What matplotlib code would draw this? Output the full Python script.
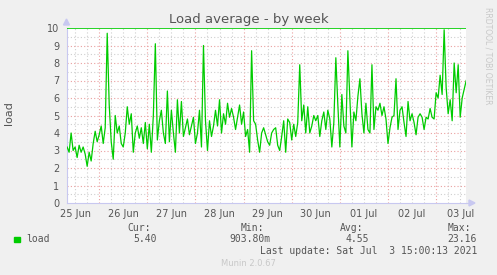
import numpy as np
import matplotlib
matplotlib.use("Agg")
import matplotlib.pyplot as plt

# hourly load samples, starting Jun 25 08:00 (hours counted from Jun 25 00:00)
start_hour = 8
load = [
    # 25 Jun
    3.2, 2.9, 4.0, 3.0, 3.2, 2.6, 3.3, 2.9, 3.2, 2.8, 2.1, 2.9, 2.4,
    3.4, 4.1, 3.5, 3.9, 4.4, 3.4, 4.3, 9.7, 5.6, 3.5, 2.5, 5.0, 4.0,
    4.4, 3.4, 3.2, 4.0, 5.5, 4.5, 5.1, 2.9, 4.0, 4.4, 3.7, 4.3, 3.4,
    4.6, 3.1, 4.5, 2.9, 5.0, 9.1, 3.6, 4.7, 5.3, 4.0, 3.4, 6.4, 3.5,
    # 27 Jun
    5.3, 4.0, 2.9, 5.9, 4.0, 5.8, 3.8, 4.3, 4.8, 3.9, 4.4, 4.9, 3.4,
    4.0, 5.3, 3.2, 9.0, 4.7, 3.0, 4.7, 3.8, 4.4, 5.3, 4.4, 5.9, 4.0,
    5.1, 4.5, 5.7, 4.9, 5.4, 4.9, 4.2, 4.9, 5.6, 4.5, 5.2, 3.8, 4.2,
    2.9, 8.7, 4.7, 4.5, 3.6, 2.9, 4.0, 4.3, 3.9, 3.5, 3.3, 4.0, 4.2,
    # 29 Jun
    4.3, 3.3, 3.0, 3.8, 4.7, 2.9, 4.8, 4.6, 3.6, 4.5, 3.8, 4.6, 7.9,
    4.7, 5.6, 4.0, 5.5, 4.0, 4.4, 5.0, 4.7, 5.0, 3.8, 4.7, 5.2, 4.2,
    5.3, 4.8, 3.2, 4.6, 8.3, 5.6, 3.2, 6.2, 4.4, 4.0, 8.7, 6.0, 3.2,
    5.2, 4.7, 6.1, 7.1, 5.1, 4.0, 5.7, 4.2, 4.0, 7.9, 4.2, 5.5, 5.3,
    # 01 Jul
    5.7, 5.0, 5.5, 4.8, 3.4, 4.3, 4.9, 5.0, 7.1, 4.2, 5.3, 5.5, 4.6,
    3.8, 5.8, 4.7, 5.1, 4.6, 3.9, 4.9, 5.1, 4.9, 4.2, 4.9, 4.8, 5.4,
    4.9, 4.8, 6.3, 6.0, 7.3, 6.2, 9.9, 6.6, 5.1, 5.9, 4.7, 8.0, 6.3,
    7.9, 4.9, 6.0, 6.5, 7.0,
]
day_labels = ["25 Jun", "26 Jun", "27 Jun", "28 Jun", "29 Jun",
              "30 Jun", "01 Jul", "02 Jul", "03 Jul"]
y_ticks = list(range(0, 11))

cur_txt = "5.40"
min_txt = "903.80m"
avg_txt = "4.55"
max_txt = "23.16"

W, H = 497, 275
green = "#00cc00"
txt_col = "#555555"
major_col = "#eaa0a0"
minor_col = "#cfcfcf"
axis_col = "#c8c8f0"

fig = plt.figure(figsize=(W / 100, H / 100), dpi=100, facecolor="#f0f0f0")
left, right, top, bottom = 66.5, 466, 28, 203
ax = fig.add_axes([left / W, 1 - bottom / H, (right - left) / W, (bottom - top) / H])
ax.set_facecolor("white")

t = start_hour + np.arange(len(load))
ax.set_xlim(7.7, 206.9)
ax.set_ylim(0, 10)

# grid
for h in range(12, 207, 6):
    if h % 24:
        ax.axvline(h, color=minor_col, lw=0.8, ls=(0, (1, 2)), zorder=1)
for h in range(24, 207, 24):
    ax.axvline(h, color=major_col, lw=0.8, ls=(0, (1, 2)), zorder=1)
for v in np.arange(0.5, 10, 1.0):
    ax.axhline(v, color=minor_col, lw=0.8, ls=(0, (1, 2)), zorder=1)
for v in range(1, 10):
    ax.axhline(v, color=major_col, lw=0.8, ls=(0, (1, 2)), zorder=1)

ax.axhline(10, color=green, lw=1.2, zorder=3)
ax.plot(t, load, color=green, lw=0.9, zorder=4)

for s in ["top", "right"]:
    ax.spines[s].set_visible(False)
for s in ["left", "bottom"]:
    ax.spines[s].set_color(axis_col)
    ax.spines[s].set_linewidth(0.8)

ax.set_xticks([12 + 24 * k for k in range(len(day_labels))])
ax.set_xticklabels(day_labels)
ax.set_yticks(y_ticks)
ax.tick_params(axis="both", length=0, colors=txt_col, labelsize=7)
ax.tick_params(axis="x", pad=4)
ax.tick_params(axis="y", pad=5)

# axis arrows
fig.patches.append(plt.Polygon([[63.5 / W, 1 - 25 / H], [69.5 / W, 1 - 25 / H], [66.5 / W, 1 - 19 / H]],
                               closed=True, transform=fig.transFigure, color=axis_col))
fig.lines.append(plt.Line2D([right / W, 470 / W], [1 - bottom / H] * 2, transform=fig.transFigure,
                            color=axis_col, lw=0.8))
fig.patches.append(plt.Polygon([[469 / W, 1 - 200 / H], [469 / W, 1 - 206 / H], [475 / W, 1 - 203 / H]],
                               closed=True, transform=fig.transFigure, color=axis_col))

fig.text(248.5 / W, 1 - 19 / H, "Load average - by week", ha="center", va="center",
         fontsize=9.5, color=txt_col)
fig.text(9 / W, 1 - 113 / H, "load", rotation=90, ha="center", va="center",
         fontsize=8, color=txt_col)
fig.text(488 / W, 1 - 56 / H, "RRDTOOL / TOBI OETIKER", rotation=-90, ha="center",
         va="center", fontsize=5.5, color="#c8c8c8")

mono = dict(family="DejaVu Sans Mono", fontsize=7, color=txt_col, va="center")
fig.patches.append(plt.Rectangle((14 / W, 1 - 242 / H), 5.5 / W, 5.5 / H,
                                 transform=fig.transFigure, color=green))
fig.text(26 / W, 1 - 239.5 / H, "load", ha="left", **mono)
for end, head, val in [(157, "Cur:", cur_txt), (270, "Min:", min_txt),
                       (369, "Avg:", avg_txt), (477, "Max:", max_txt)]:
    fig.text((end - 6) / W, 1 - 228 / H, head, ha="right", **mono)
    fig.text(end / W, 1 - 239.5 / H, val, ha="right", **mono)
fig.text(477 / W, 1 - 251.5 / H, "Last update: Sat Jul  3 15:00:13 2021", ha="right", **mono)
fig.text(248.5 / W, 1 - 264 / H, "Munin 2.0.67", ha="center", va="center",
         fontsize=6, color="#c8c8c8")

fig.savefig("out.png", dpi=100, facecolor=fig.get_facecolor())
